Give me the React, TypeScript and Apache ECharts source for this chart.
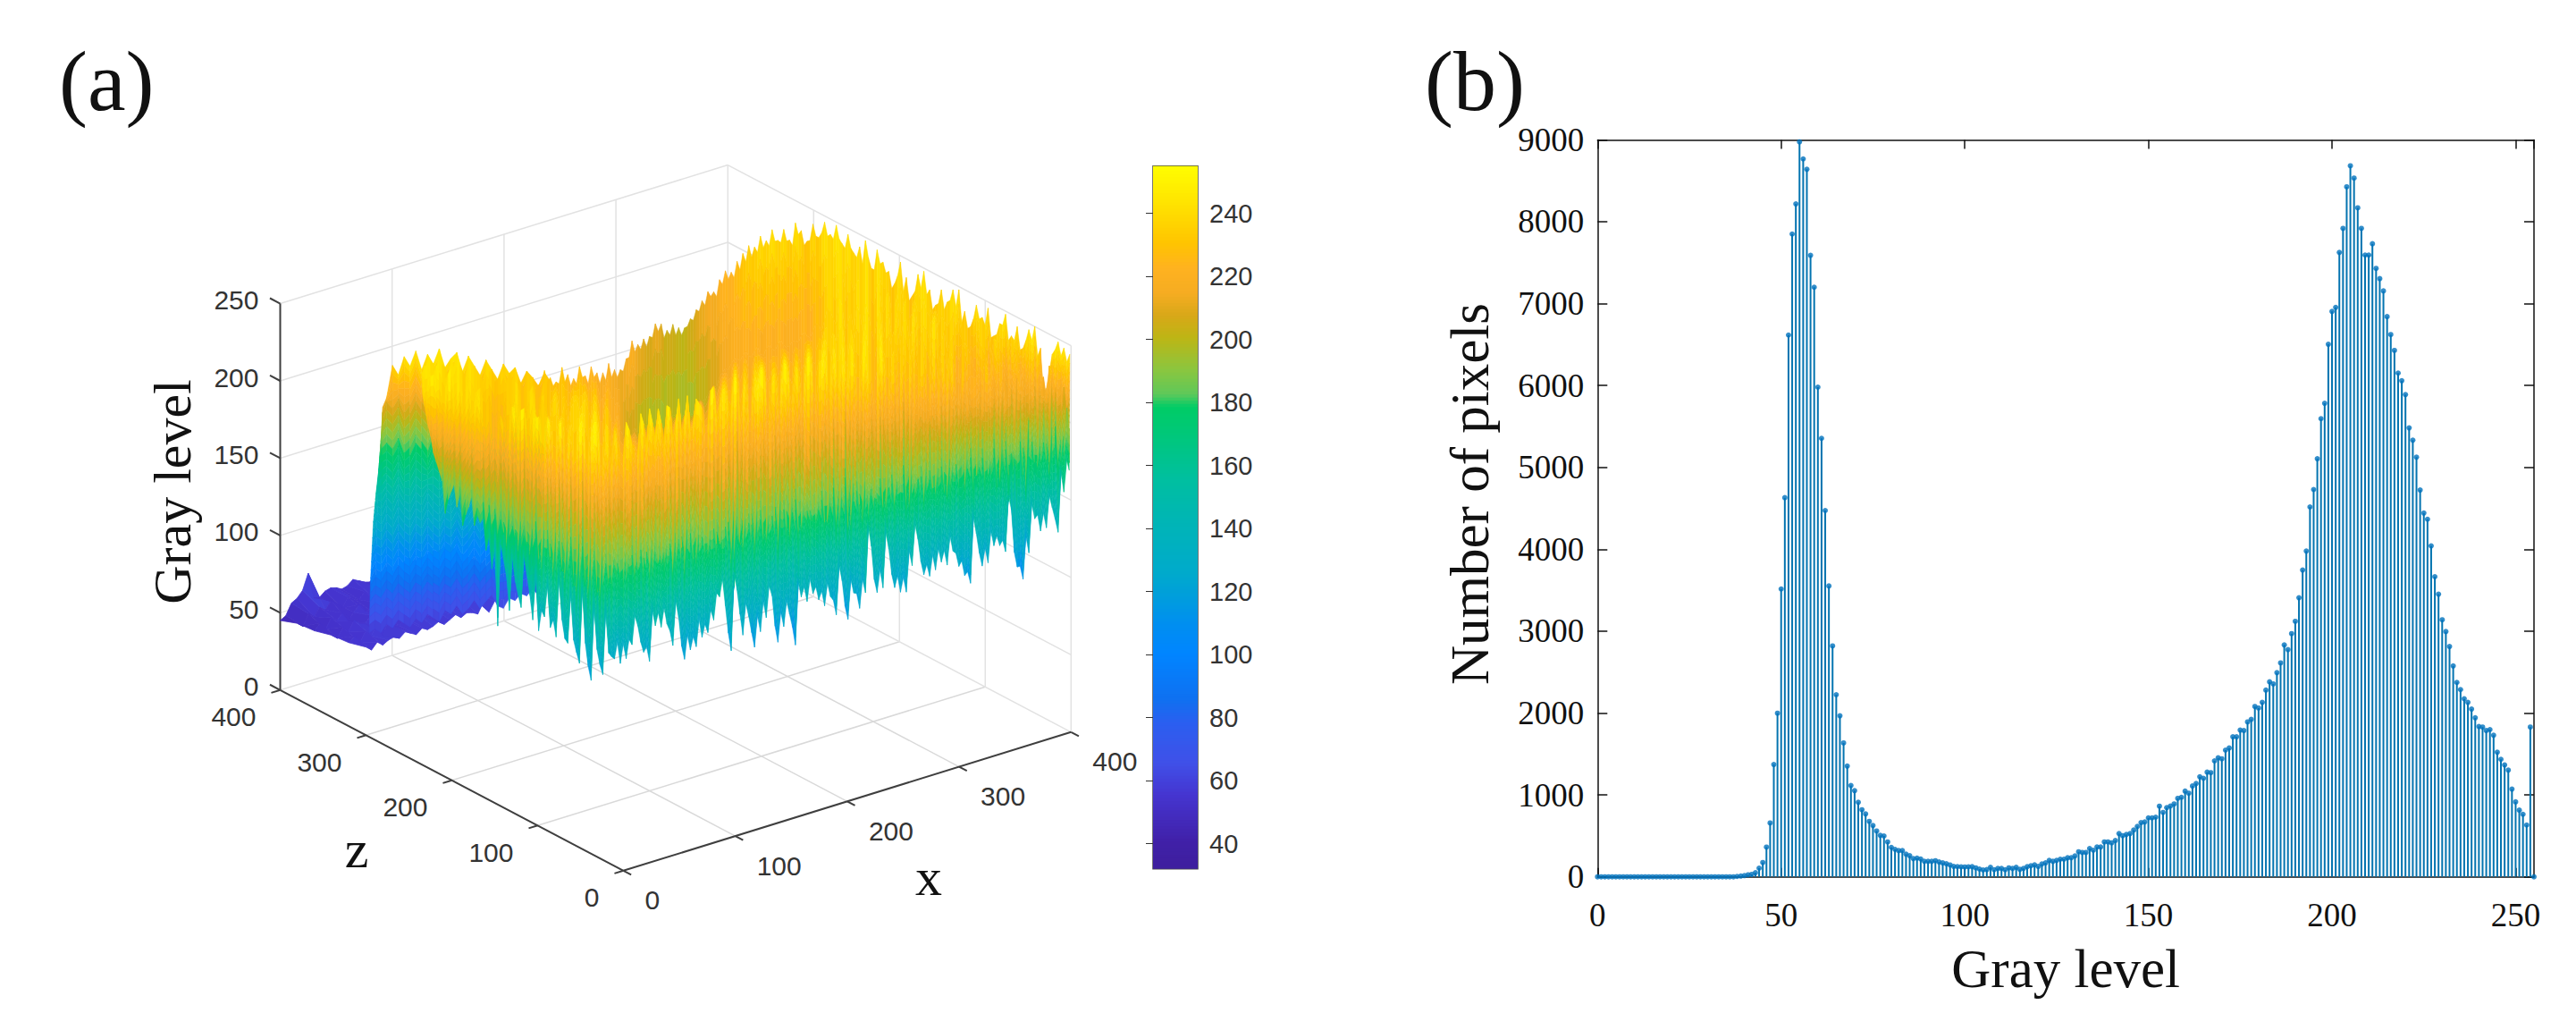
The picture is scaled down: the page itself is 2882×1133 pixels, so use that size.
import React, { useEffect, useRef } from "react";
import * as echarts from "echarts";

// ---------- Panel (b): histogram, counts per gray level 0..255 ----------
const histCounts = [
  0,0,0,0,0,0,0,0,0,0, 0,0,0,0,0,0,0,0,0,0, 0,0,0,0,0,0,0,0,0,0, 0,0,0,0,0,0,0,0,5,10,
  15,25,30,50,106,175,363,658,1372,1998, 3515,4630,6616,7850,8217,8975,8767,8640,7590,7200,
  5980,5355,4473,3552,2820,2224,1967,1635,1353,1115, 1052,910,819,768,677,626,560,506,499,426,
  360,335,320,320,277,258,222,229,218,190, 190,190,197,182,170,160,145,127,125,122,
  120,122,124,109,95,84,88,116,87,102, 102,87,109,102,116,91,102,124,135,146,
  127,157,171,200,189,200,215,215,233,233, 255,306,298,298,346,324,364,364,426,426,
  415,444,528,502,517,528,571,615,662,670, 720,720,728,863,786,845,865,890,958,971,
  1046,1021,1109,1140,1222,1203,1278,1272,1416,1453, 1441,1547,1573,1710,1710,1792,1786,1892,1923,2080,
  2061,2130,2280,2381,2356,2493,2612,2832,2775,2970, 3120,3408,3746,3978,4517,4730,5106,5595,5783,6503,
  6904,6954,7625,7919,8426,8683,8533,8170,7919,7593, 7593,7731,7430,7305,7155,6841,6622,6428,6152,6058,
  5889,5482,5332,5125,4724,4442,4367,4041,3665,3452, 3139,2995,2813,2575,2374,2287,2174,2130,2049,1942,
  1836,1829,1786,1798,1729,1522,1435,1366,1303,1071, 915,814,764,633,1829,0,
];

// ---------- Panel (a): surface, gray level read per screen column ----------
// step wall on the left of the surface
const wallRow0 = [56,58,55,60,57,62,59,56,61,58,63,60,57,64,61,66,60,63,68,62,66,70,62,60,66,64,68,66,70,66,68,64];
const wallRow1 = [92,98,95,101,97,104,99,96,103,100,106,101,98,105,102,108,100,104,110,103,108,112,98,102,95,100,92,96,90,94,92,96];
const wallRow2 = [130,136,133,140,135,144,138,134,142,138,146,140,136,144,141,148,140,144,150,143,148,152,135,130,142,128,136,124,132,126,130,128];
const wallRow3 = [150,166,170,172,168,175,165,168,176,172,166,176,172,168,178,172,175,180,172,178,182,176,165,172,160,176,158,168,155,162,158,160];
const wallRow4 = [155,190,205,212,208,214,205,210,218,212,208,220,214,210,222,215,218,226,216,222,226,220,205,212,202,214,200,210,204,208,204,206];
const wallRow5 = [159,194,211,217,238,232,244,238,248,236,246,240,250,238,244,248,236,246,240,234,244,238,232,242,236,240,230,238,234,228,236,230];

// main surface, alternate columns
const surfRow0A = [
  240,222,205,195,170,186,178,168,182,172,176,160,150,
  115,160,129,150,135,158,131,126,137,132,128,141,128,132,119,134,112,134,118,131,126,122,
  124,132,143,125,118,140,138,139,124,141,113,118,119,124,126,133,147,140,110,148,
  118,129,108,117,125,138,107,116,123,102,132,128,132,127,122,127,114,135,109,125,
  114,123,152,121,123,147,121,117,116,132,148,124,122,125,129,126,134,123,116,110,
  141,119,120,130,129,124,150,112,103,119,140,131,132,144,127,152,165,
];
const surfRow0B = [
  232,215,200,190,180,192,188,176,190,180,180,170,165,
  172,150,165,142,170,146,160,140,158,138,165,130,160,125,168,120,160,125,158,128,136,134,
  136,150,132,128,150,148,150,134,152,122,128,126,136,132,140,150,158,122,160,132,
  138,118,128,136,145,118,126,132,114,142,138,142,136,132,136,124,145,118,134,124,
  132,165,130,135,158,130,128,126,142,158,133,130,135,138,136,144,132,126,118,152,
  128,130,140,136,132,160,122,112,130,150,142,142,152,136,165,172,
];
const surfRow1A = [
  243,228,214,205,192,204,198,190,200,192,196,182,172,
  158,176,165,172,168,175,160,155,170,163,158,172,150,166,148,170,142,168,150,166,160,155,
  162,170,178,160,152,175,172,176,158,178,148,155,158,165,168,172,180,178,146,182,
  156,170,146,158,168,176,145,155,164,140,172,168,174,168,162,168,152,176,146,166,
  152,164,188,162,164,186,160,156,155,172,186,162,160,164,168,165,172,160,154,148,
  178,158,160,168,168,163,186,150,140,158,176,170,170,180,166,188,192,
];
const surfRow1B = [
  236,222,210,206,198,208,204,196,206,198,200,190,178,
  168,160,172,155,176,158,168,150,170,152,178,145,172,140,176,138,172,140,170,145,152,150,
  172,164,182,168,160,178,166,180,164,170,152,148,164,160,172,166,176,162,150,176,
  160,160,140,164,172,168,150,148,160,146,178,160,170,160,172,158,160,170,152,158,
  160,170,180,158,172,176,166,150,162,178,170,158,168,160,172,160,176,154,150,160,
  170,152,166,162,172,156,178,144,148,166,170,176,164,184,172,194,
];
const surfRow2A = [
  245,232,226,218,212,224,214,208,218,210,214,204,196,
  190,176,204,182,206,178,200,170,208,176,212,170,204,165,206,160,208,168,204,176,194,178,
  196,212,184,214,176,208,186,216,178,220,170,196,176,208,184,214,170,218,168,222,
  180,210,170,204,178,218,166,200,172,206,176,218,182,208,172,214,170,216,164,210,
  178,204,190,216,172,210,176,204,166,206,186,170,212,178,200,168,208,172,176,196,
  172,206,180,198,166,200,174,192,170,204,168,196,176,206,162,186,170,
];
const surfRow2B = [
  238,228,230,224,216,228,220,212,222,214,218,208,200,
  200,172,208,180,212,176,205,178,210,172,214,170,208,165,212,168,206,170,205,178,190,180,
  205,178,220,186,198,176,214,190,218,182,205,172,200,186,212,178,216,190,208,170,
  214,184,205,172,216,182,206,176,212,170,198,214,186,205,174,212,190,216,176,206,
  170,208,184,215,178,204,192,208,172,212,186,200,176,206,170,198,188,172,206,168,
  204,178,190,166,208,172,184,198,160,190,174,205,168,196,178,206,
];
const surfRow3A = [
  246,238,250,242,234,248,240,232,244,236,240,228,222,
  220,234,226,244,250,228,240,250,230,246,222,250,234,226,248,232,244,252,226,240,
  248,228,252,234,224,244,252,230,240,250,
  226,252,236,228,248,240,224,252,234,246,
  228,250,236,222,248,252,230,242,226,252,
  234,246,224,250,230,240,252,226,238,248,
  228,244,222,250,234,224,246,220,240,228,
  218,244,226,236,216,232,242,222,228,212,
  236,220,226,208,232,216,224,210,218,228,
  212,204,222,216,210,226,208,220,202,
];
const surfRow3B = [
  236,248,240,234,250,230,246,238,232,248,230,234,226,
  240,222,250,230,252,224,248,234,250,226,248,220,244,230,252,224,250,232,244,222,234,224,
  246,230,252,226,242,250,224,248,236,228,
  252,232,244,224,250,228,246,234,252,222,
  248,226,240,252,220,246,232,250,224,242,
  230,252,222,244,234,250,228,240,248,222,
  244,232,218,248,224,236,212,242,226,216,
  234,222,240,214,230,244,220,226,208,224,
  214,234,218,206,228,216,198,222,208,214,
  200,214,206,220,210,194,
];
const surfRow4A = [
  240,246,238,244,234,248,240,232,244,236,240,230,226,
  228,222,236,240,226,232,244,224,236,228,242,230,224,238,232,240,226,234,222,228,218,212,
  206,204,200,198,196,196,194,196,198,196,195,194,198,200,202,206,210,
  214,216,218,219,218,220,217,219,218,220,218,217,219,221,220,222,226,230,
  236,228,242,232,226,240,246,230,238,226,244,234,228,242,236,224,240,230,246,232,
  226,238,222,236,228,218,234,224,240,228,216,232,222,212,226,236,220,210,228,218,206,214,
];
const surfRow4B = [
  246,240,248,238,244,238,248,236,242,238,232,236,222,
  226,236,230,244,230,240,232,240,230,238,228,238,234,240,236,232,238,224,232,220,224,208,
  202,206,198,200,194,198,192,198,196,194,196,192,200,198,204,204,212,
  212,218,216,221,216,222,215,221,216,222,216,219,217,223,218,226,222,238,
  232,246,226,238,244,228,240,224,246,238,228,246,240,230,248,234,238,242,228,240,
  234,226,230,232,220,238,230,216,236,224,212,236,226,218,232,214,224,232,212,222,208,
];
const surfRow5A = [
  236,246,240,250,238,244,248,236,246,240,234,244,238,
  232,242,236,240,230,238,234,228,236,230,226,234,228,224,230,222,226,220,218,222,216,214,
  218,224,216,214,210,216,214,208,210,206,204,208,212,216,220,218,224,228,226,232,
  236,240,238,244,240,246,238,244,236,246,240,232,242,234,246,240,248,238,246,236,
  242,248,232,246,240,236,230,246,238,228,244,248,238,230,242,236,246,248,236,228,
  244,238,246,230,240,248,236,244,232,246,250,238,214,238,248,246,244,
];
const surfRow5B = [
  232,242,236,240,232,238,240,232,238,234,230,236,230,
  234,230,232,232,226,230,226,224,228,224,224,224,220,220,222,216,218,212,212,212,210,212,
  216,214,210,206,208,210,204,204,202,200,204,206,210,212,216,214,220,
  222,222,226,230,232,234,236,236,238,236,236,232,238,230,232,234,238,238,
  238,240,236,238,234,232,238,232,238,234,226,236,228,224,232,236,234,226,232,230,
  238,236,228,226,234,236,234,228,232,240,232,234,230,238,240,232,208,226,242,240,238,
];

// low plain at the back left: rows at z = 300..400, columns at x = 0,5,..150
const plainZ = [300, 320, 340, 360, 380, 400];
const plainRow300 = [57,54,58,55,57,58,56,59,57,55,58,56,57,59,56,58,60,57,59,58,56,63,55,61,62,60,61,63,62,60,61];
const plainRow320 = [54,57,52,58,54,60,52,60,56,55,58,56,60,57,55,59,56,60,58,57,60,56,59,60,58,59,56,60,58,61,59];
const plainRow340 = [53,50,56,52,58,55,54,58,53,57,54,59,55,53,58,56,60,55,57,56,59,60,57,55,60,58,56,59,60,57,58];
const plainRow360 = [50,54,49,55,52,56,50,54,58,53,52,56,54,57,58,60,55,56,54,58,60,57,56,58,59,56,58,60,56,58,60];
const plainRow380 = [49,46,53,50,55,52,57,54,50,56,54,52,56,53,58,55,57,59,54,57,56,58,60,55,58,60,57,56,59,58,59];
const plainRow400 = [45,47,54,56,60,70,53,52,55,56,55,53,54,57,55,53,52,55,56,58,54,56,58,60,56,58,57,60,58,59,60];
const plainRows = [plainRow300, plainRow320, plainRow340, plainRow360, plainRow380, plainRow400];

const xTicks3d = [0, 100, 200, 300, 400];
const zTicks3d = [0, 100, 200, 300, 400];
const grayTicks3d = [0, 50, 100, 150, 200, 250];

// colour bar
const colorbarTicks = [40, 60, 80, 100, 120, 140, 160, 180, 200, 220, 240];
const colorLevels: [number, string][] = [
  [32, "#3E1F9E"], [40, "#4020A8"], [55, "#4535D0"], [65, "#4050E8"], [78, "#2A5FF0"], [85, "#1070F0"],
  [100, "#0085FF"], [110, "#0090EE"], [125, "#00AACC"], [140, "#00B4B8"], [155, "#00BFA0"], [170, "#00C878"],
  [178, "#00CC66"], [182, "#5EC85A"], [190, "#8CC63E"], [200, "#BDB515"], [207, "#D8A818"], [214, "#F5AC22"],
  [222, "#FFB220"], [230, "#FFC400"], [240, "#FFDD00"], [255, "#FFFF00"],
];

// ---------- helpers ----------
const hex = (s: string) => [1, 3, 5].map((k) => parseInt(s.slice(k, k + 2), 16));
function colorOf(g: number) {
  if (g <= colorLevels[0][0]) return colorLevels[0][1];
  for (let k = 1; k < colorLevels.length; k++) {
    if (g <= colorLevels[k][0]) {
      const [g0, c0] = colorLevels[k - 1];
      const [g1, c1] = colorLevels[k];
      const t = (g - g0) / (g1 - g0);
      const a = hex(c0), b = hex(c1);
      return `rgb(${a.map((v, n) => Math.round(v + (b[n] - v) * t)).join(",")})`;
    }
  }
  return colorLevels[colorLevels.length - 1][1];
}

const O3 = { u: 697.5, v: 973.8 };
const project = (x: number, z: number, g: number): [number, number] => [
  O3.u + 1.252 * x - 0.96 * z,
  O3.v - 0.3875 * x - 0.505 * z - 1.729 * g,
];

function pathAt(path: [number, number][], u: number): [number, number] {
  const pu = (p: [number, number]) => project(p[0], p[1], 0)[0];
  if (u <= pu(path[0])) return path[0];
  for (let k = 1; k < path.length; k++) {
    const a = path[k - 1], b = path[k];
    const ua = pu(a), ub = pu(b);
    if (u <= ub && ub > ua) {
      const t = (u - ua) / (ub - ua);
      return [a[0] + (b[0] - a[0]) * t, a[1] + (b[1] - a[1]) * t];
    }
  }
  return path[path.length - 1];
}

const zip = (a: number[], b: number[]) => {
  const out: number[] = [];
  a.forEach((v, k) => { out.push(v); if (k < b.length) out.push(b[k]); });
  return out;
};

type Mesh = { rows: number[][]; u0: number; du: number; bottom: [number, number][]; top: [number, number][]; f: number[] };
const wallMesh: Mesh = {
  rows: [wallRow0, wallRow1, wallRow2, wallRow3, wallRow4, wallRow5],
  u0: 413, du: 6.53,
  bottom: [[19, 321], [138, 280]],
  top: [[12, 296], [90, 222], [125, 214]],
  f: [0, 0.1, 0.3, 0.5, 0.8, 1],
};
const surfaceMesh: Mesh = {
  rows: [
    zip(surfRow0A, surfRow0B), zip(surfRow1A, surfRow1B), zip(surfRow2A, surfRow2B),
    zip(surfRow3A, surfRow3B), zip(surfRow4A, surfRow4B), zip(surfRow5A, surfRow5B),
  ],
  u0: 472, du: 3.265,
  bottom: [[0.6, 235], [0.8, 148], [0, 28], [406, 10]],
  top: [[12, 296], [90, 222], [130, 225], [185, 240], [240, 282], [321, 301], [400, 298], [400, 0]],
  f: [0, 0.008, 0.03, 0.25, 0.62, 1],
};

const renderMesh = (mesh: Mesh) => (_: any, api: any) => {
  const i = api.value(0), r = api.value(1);
  const g = mesh.rows;
  const g00 = g[r][i], g01 = g[r][i + 1], g10 = g[r + 1][i], g11 = g[r + 1][i + 1];
  const k = Math.min(10, Math.max(1, Math.ceil(Math.max(Math.abs(g10 - g00), Math.abs(g11 - g01)) / 6)));
  const pos = (col: number, t: number, gv: number) => {
    const u = mesh.u0 + mesh.du * col;
    const b = pathAt(mesh.bottom, u), top = pathAt(mesh.top, u);
    const f = mesh.f[r] + (mesh.f[r + 1] - mesh.f[r]) * t;
    return api.coord(project(b[0] + (top[0] - b[0]) * f, b[1] + (top[1] - b[1]) * f, gv));
  };
  const children: any[] = [];
  for (let s = k - 1; s >= 0; s--) {
    const t0 = s / k, t1 = (s + 1) / k;
    const a0 = g00 + (g10 - g00) * t0, a1 = g00 + (g10 - g00) * t1;
    const b0 = g01 + (g11 - g01) * t0, b1 = g01 + (g11 - g01) * t1;
    const fill = colorOf((a0 + a1 + b0 + b1) / 4);
    children.push({
      type: "polygon",
      shape: { points: [pos(i, t0, a0), pos(i + 1, t0, b0), pos(i + 1, t1, b1), pos(i, t1, a1)] },
      style: { fill, stroke: fill, lineWidth: 0.5 },
    });
  }
  return { type: "group", children };
};

const meshCells = (mesh: Mesh) => {
  const cells: number[][] = [];
  const n = Math.min(...mesh.rows.map((x) => x.length));
  for (let r = mesh.rows.length - 2; r >= 0; r--) for (let i = 0; i < n - 1; i++) cells.push([i, r]);
  return cells;
};

const serif = "'Liberation Serif','Times New Roman',serif";
const sans = "'Liberation Sans',Arial,sans-serif";

type Seg = [number, number, number, number, number, number, string, number];
function boxSegments(): Seg[] {
  const seg: Seg[] = [];
  const light = "#e2e2e2";
  const dark = "#3f3f3f";
  for (const t of xTicks3d.slice(1, 4)) seg.push([t, 0, 0, t, 400, 0, "#d9d9d9", 1.5]);
  for (const t of zTicks3d.slice(1, 4)) seg.push([0, t, 0, 400, t, 0, "#d9d9d9", 1.5]);
  for (const t of xTicks3d.slice(1)) seg.push([t, 400, 0, t, 400, 250, light, 1.5]);
  for (const t of zTicks3d.slice(0, 4)) seg.push([400, t, 0, 400, t, 250, light, 1.5]);
  for (const g of grayTicks3d) {
    seg.push([0, 400, g, 400, 400, g, light, 1.5]);
    seg.push([400, 400, g, 400, 0, g, light, 1.5]);
  }
  seg.push([0, 400, 0, 0, 400, 250, dark, 2]);
  seg.push([0, 0, 0, 0, 400, 0, dark, 2]);
  seg.push([0, 0, 0, 400, 0, 0, dark, 2]);
  for (const g of grayTicks3d) seg.push([0, 400, g, 0, 412, g, dark, 2]);
  for (const t of zTicks3d) seg.push([0, t, 0, -8, t, 0, dark, 2]);
  for (const t of xTicks3d) seg.push([t, 0, 0, t, -9, 0, dark, 2]);
  return seg;
}
const allSegments = boxSegments();

function renderSegment(_: any, api: any) {
  const c = (k: number) => api.value(k);
  const a = api.coord(project(c(0), c(1), c(2)));
  const b = api.coord(project(c(3), c(4), c(5)));
  const s = allSegments[api.value(6)];
  return {
    type: "line",
    shape: { x1: a[0], y1: a[1], x2: b[0], y2: b[1] },
    style: { stroke: s[6], lineWidth: s[7] },
  };
}

function renderPlain(_: any, api: any) {
  const r = api.value(0), c = api.value(1);
  const corner = (rr: number, cc: number) => api.coord(project(cc * 5, plainZ[rr], plainRows[rr][cc]));
  const mean = (plainRows[r][c] + plainRows[r + 1][c] + plainRows[r][c + 1] + plainRows[r + 1][c + 1]) / 4;
  const fill = colorOf(mean);
  return {
    type: "polygon",
    shape: { points: [corner(r, c), corner(r, c + 1), corner(r + 1, c + 1), corner(r + 1, c)] },
    style: { fill, stroke: fill, lineWidth: 0.8 },
  };
}

type Lab = [string, number, number, number, string];
function axisLabels3d(): Lab[] {
  const out: Lab[] = [];
  for (const g of grayTicks3d) out.push([String(g), 0, 400, g, "g"]);
  for (const t of zTicks3d) out.push([String(t), 0, t, 0, "z"]);
  for (const t of xTicks3d) out.push([String(t), t, 0, 0, "x"]);
  return out;
}
const allLabels = axisLabels3d();

function renderLabel(_: any, api: any) {
  const lab = allLabels[api.value(0)];
  const [px, py] = api.coord(project(lab[1], lab[2], lab[3]));
  const offs: any = {
    g: { dx: -24, dy: -4, align: "right" },
    z: { dx: -27, dy: 30, align: "right" },
    x: { dx: 24, dy: 33, align: "left" },
  };
  const o = offs[lab[4]];
  return {
    type: "text",
    style: {
      text: lab[0], x: px + o.dx, y: py + o.dy, align: o.align, verticalAlign: "middle",
      fontFamily: sans, fontSize: 30, fill: "#333333",
    },
  };
}

function renderColorbar(_: any, api: any) {
  const v = api.value(0);
  const a = api.coord([0, Math.min(255, v + 1.5)]);
  const b = api.coord([1, v]);
  return {
    type: "rect",
    shape: { x: a[0], y: a[1], width: b[0] - a[0], height: b[1] - a[1] },
    style: { fill: colorOf(v + 0.5) },
  };
}

const colorbarSteps: number[] = [];
for (let v = 254; v >= 32; v -= 1) colorbarSteps.push(v);

export default function App() {
  const ref = useRef<HTMLDivElement>(null);
  useEffect(() => {
    const chart = echarts.init(ref.current!, undefined, { renderer: "svg" });
    const segments = allSegments.map((s, n) => [s[0], s[1], s[2], s[3], s[4], s[5], n]);
    const plainCells: number[][] = [];
    for (let r = plainRows.length - 2; r >= 0; r--) for (let c = 0; c < plainRow300.length - 1; c++) plainCells.push([r, c]);
    const axisColor = "#111111";
    const histAxisX = { gridIndex: 2, type: "value", min: 0, max: 255, interval: 50 };
    const histAxisY = { gridIndex: 2, type: "value", min: 0, max: 9000, interval: 1000 };
    const noAxis = { show: false, type: "value" };
    const plain = (v: number) => String(v);
    chart.setOption({
      animation: false,
      backgroundColor: "#ffffff",
      grid: [
        { left: 0, top: 0, width: 1441, height: 1133 },
        { left: 1290, top: 185.7, width: 50, height: 786.1, show: true, borderColor: "#4a4a4a", borderWidth: 1.5, backgroundColor: "transparent" },
        { left: 1787.3, top: 156.4, width: 1047.7, height: 824.3 },
      ],
      xAxis: [
        { ...noAxis, gridIndex: 0, min: 0, max: 1441 },
        { ...noAxis, gridIndex: 1, min: 0, max: 1 },
        {
          ...histAxisX, position: "bottom",
          name: "Gray level", nameLocation: "middle", nameGap: 72,
          nameTextStyle: { fontFamily: serif, fontSize: 61, color: "#111" },
          axisLine: { show: true, onZero: false, lineStyle: { color: axisColor, width: 1.5 } },
          axisTick: { show: true, inside: true, length: 10, lineStyle: { color: axisColor, width: 1.5 } },
          axisLabel: { show: true, margin: 24, showMaxLabel: false, formatter: plain, fontFamily: serif, fontSize: 37, color: "#111" },
          splitLine: { show: false },
        },
        {
          ...histAxisX, position: "top",
          axisLine: { show: true, onZero: false, lineStyle: { color: axisColor, width: 1.5 } },
          axisTick: { show: true, inside: true, length: 10, lineStyle: { color: axisColor, width: 1.5 } },
          axisLabel: { show: false },
          splitLine: { show: false },
        },
      ],
      yAxis: [
        { ...noAxis, gridIndex: 0, min: 0, max: 1133, inverse: true },
        {
          gridIndex: 1, type: "value", min: 32, max: 255, position: "right",
          axisLine: { show: false },
          axisTick: { show: true, inside: true, length: 8, customValues: colorbarTicks, lineStyle: { color: "#333", width: 1 } },
          axisLabel: { show: true, margin: 13, customValues: colorbarTicks, fontFamily: sans, fontSize: 29, color: "#333333" },
          splitLine: { show: false },
        },
        {
          ...histAxisY, position: "left",
          name: "Number of pixels", nameLocation: "middle", nameGap: 112,
          nameTextStyle: { fontFamily: serif, fontSize: 61, color: "#111", padding: [0, 0, 0, 32] },
          axisLine: { show: true, onZero: false, lineStyle: { color: axisColor, width: 1.5 } },
          axisTick: { show: true, inside: true, length: 11, lineStyle: { color: axisColor, width: 1.5 } },
          axisLabel: { show: true, margin: 15, formatter: plain, fontFamily: serif, fontSize: 37, color: "#111" },
          splitLine: { show: false },
        },
        {
          ...histAxisY, position: "right",
          axisLine: { show: true, onZero: false, lineStyle: { color: axisColor, width: 1.5 } },
          axisTick: { show: true, inside: true, length: 11, lineStyle: { color: axisColor, width: 1.5 } },
          axisLabel: { show: false },
          splitLine: { show: false },
        },
      ],
      series: [
        { type: "custom", name: "box", xAxisIndex: 0, yAxisIndex: 0, clip: false, renderItem: renderSegment, data: segments, encode: { x: 0, y: 1 }, silent: true, z: 1 },
        { type: "custom", name: "plain", xAxisIndex: 0, yAxisIndex: 0, clip: false, renderItem: renderPlain, data: plainCells, encode: { x: 0, y: 1 }, silent: true, z: 2 },
        { type: "custom", name: "wall", xAxisIndex: 0, yAxisIndex: 0, clip: false, renderItem: renderMesh(wallMesh), data: meshCells(wallMesh), encode: { x: 0, y: 1 }, silent: true, z: 3 },
        { type: "custom", name: "surface", xAxisIndex: 0, yAxisIndex: 0, clip: false, renderItem: renderMesh(surfaceMesh), data: meshCells(surfaceMesh), encode: { x: 0, y: 1 }, silent: true, z: 4 },
        { type: "custom", name: "labels", xAxisIndex: 0, yAxisIndex: 0, clip: false, renderItem: renderLabel, data: allLabels.map((_, n) => [n, 0]), encode: { x: 0, y: 1 }, silent: true, z: 5 },
        { type: "custom", name: "colorbar", xAxisIndex: 1, yAxisIndex: 1, renderItem: renderColorbar, data: colorbarSteps.map((v) => [v]), encode: { y: 0 }, silent: true, z: 1 },
        {
          type: "bar", name: "stems", xAxisIndex: 2, yAxisIndex: 2, barWidth: 2,
          itemStyle: { color: "#0474b0" }, clip: false, silent: true, z: 2,
          data: histCounts.map((c, i) => [i, c]),
        },
        {
          type: "scatter", name: "counts", xAxisIndex: 2, yAxisIndex: 2, symbolSize: 6,
          itemStyle: { color: "#0072BD" }, clip: false, silent: true, z: 3,
          data: histCounts.map((c, i) => [i, c]),
        },
      ],
      graphic: [
        { type: "text", x: 66, y: 90, style: { text: "(a)", fontFamily: serif, fontSize: 96, fill: "#111", verticalAlign: "middle" } },
        { type: "text", x: 1594, y: 90, style: { text: "(b)", fontFamily: serif, fontSize: 96, fill: "#111", verticalAlign: "middle" } },
        { type: "text", x: 193, y: 550, rotation: Math.PI / 2, style: { text: "Gray level", fontFamily: serif, fontSize: 60, fill: "#111", align: "center", verticalAlign: "middle" } },
        { type: "text", x: 399, y: 950, style: { text: "z", fontFamily: serif, fontSize: 60, fill: "#111", align: "center", verticalAlign: "middle" } },
        { type: "text", x: 1039, y: 981, style: { text: "x", fontFamily: serif, fontSize: 60, fill: "#111", align: "center", verticalAlign: "middle" } },
      ],
    });
    return () => chart.dispose();
  }, []);
  return <div ref={ref} style={{ position: "absolute", left: 0, top: 0, width: 2882, height: 1133 }} />;
}
